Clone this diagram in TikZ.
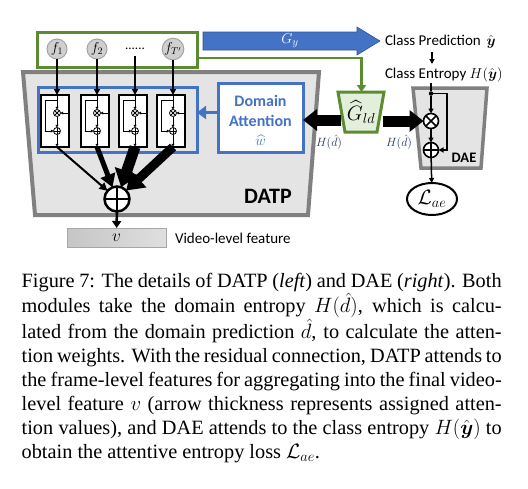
\documentclass[tikz,border=0pt]{standalone}
\usepackage{amsmath}
\usepackage{fontspec}
\setmainfont{Liberation Serif}
\newfontfamily\carl{Carlito}
\usetikzlibrary{arrows.meta,calc,shapes.geometric}
\definecolor{myblue}{HTML}{4472C4}
\definecolor{darkblue}{HTML}{2F5597}
\definecolor{mygreen}{HTML}{5B8C32}
\definecolor{lgreen}{HTML}{E2EFDA}
\definecolor{boxgray}{HTML}{E4E4E4}
\definecolor{edgegray}{HTML}{808080}
\definecolor{navy}{HTML}{1F3864}
\definecolor{fgray}{HTML}{CFCFCF}
\definecolor{fedge}{HTML}{A5A5A5}
\begin{document}
\begin{tikzpicture}[x=1pt,y=-1pt,
  every node/.style={inner sep=0pt,outer sep=0pt},
  sans/.style={font=\carl\fontsize{#1}{#1}\selectfont},
  fcirc/.style={circle,draw=fedge,fill=fgray,line width=1pt,minimum size=20pt,font=\fontsize{14}{14}\selectfont},
  farrow/.style={line width=1.8pt,-{Triangle[length=6pt,width=6pt]}},
  tarrow/.style={line width=0.9pt,-{Triangle[length=2.6pt,width=2.8pt]}},
  darrow/.style={line width=1.5pt,-{Triangle[length=5pt,width=5pt]}},
  blk/.style={draw,line width=2.2pt,fill=white,minimum width=28pt,minimum height=52pt},
  otimes/.style={circle,draw,fill=white,line width=#1,minimum size=7pt,
     path picture={\draw[line width=#1] (path picture bounding box.south west)--(path picture bounding box.north east)
                    (path picture bounding box.north west)--(path picture bounding box.south east);}},
  oplus/.style={circle,draw,fill=white,line width=#1,minimum size=7pt,
     path picture={\draw[line width=#1] (path picture bounding box.north)--(path picture bounding box.south)
                    (path picture bounding box.west)--(path picture bounding box.east);}},
]
\useasboundingbox (0,0) rectangle (528,488);

% DATP module
\draw[edgegray,fill=boxgray,line width=4pt] (23,72)--(319,72)--(308,215)--(35,215)--cycle;
\node[font=\carl\bfseries\fontsize{22}{22}\selectfont] (datp) at (268,196.5) {DATP};

% frame features
\node[draw=mygreen,line width=3pt,minimum width=160pt,minimum height=35pt] (fr) at (117,49.5) {};
\node[fcirc] (f1) at (57,49) {$f_1$};
\node[fcirc] (f2) at (97,49) {$f_2$};
\node[font=\carl\fontsize{13}{13}\selectfont] (f3) at (135,49) {......};
\node[fcirc] (f4) at (173,49) {$f_{T'}$};

% attention blocks
\node[draw=myblue,line width=3pt,minimum width=159pt,minimum height=65pt] (att) at (117.5,119.5) {};
\foreach \i/\x in {1/57,2/97,3/135,4/173}{
  \node[blk] (b\i) at (\x-2,121) {};
  \node[otimes=0.8pt] (m\i) at (\x,113) {};
  \node[oplus=0.8pt] (p\i) at (\x,131) {};
  \draw[tarrow] (\x,95) -- (m\i);
  \draw[tarrow] (\x,100) -- (\x-12,100) -- (\x-12,131) -- (p\i);
  \draw[tarrow] (\x+11,113) -- (m\i);
  \draw[tarrow] (m\i) -- (p\i);
  \draw[tarrow] (p\i) -- (\x,146.5);
}
\foreach \i in {1,2,4}{\draw[farrow] (f\i) -- (f\i |- b\i.north);}
\draw[farrow] ($(f3.south)+(0,6)$) -- (f3 |- b3.north);

% domain attention
\node[draw=myblue,line width=3pt,fill=white,minimum width=85pt,minimum height=69pt] (da) at (260.5,117.5) {};
\node[anchor=north,align=center,font=\carl\bfseries\fontsize{16}{20}\selectfont,text=myblue] (dat) at (260.5,95.5)
  {Domain\\Attention\\[-1pt]{\fontsize{15}{15}\selectfont$\widehat{w}$}};
\coordinate (ya) at (0,112.5);
\draw[myblue,line width=3pt,-{Triangle[length=9pt,width=13pt]}] (da.west |- ya) -- (att.east |- ya);

% aggregation
\node[circle,minimum size=25pt] (P) at (117,199) {};
\draw[line width=2pt,-{Triangle[length=8pt,width=8pt]}] (b1.south -| m1) -- (P);
\draw[line width=5pt,-{Triangle[length=13pt,width=15pt]}] (b2.south -| m2) -- (P);
\draw[line width=11pt,-{Triangle[length=17pt,width=24pt]}] (b3.south -| m3) -- (P);
\draw[line width=9pt,-{Triangle[length=17pt,width=22pt]}] (b4.south -| m4) -- (P);
\node[oplus=2.5pt,minimum size=25pt] (Pdraw) at (P) {};

\node[draw=gray!70,line width=1pt,left color=gray!45,right color=gray!25,minimum width=99pt,minimum height=19pt,font=\fontsize{18}{18}\selectfont] (v) at (116.5,237.5) {$v$};
\draw[line width=2.5pt,-{Triangle[length=7pt,width=9pt]}] (Pdraw) -- (v);
\node[sans=15,anchor=west] (vl) at (175,238) {Video-level feature};

% G_y arrow
\draw[darkblue,fill=myblue,line width=0.6pt] (203,32) -- (357,32) -- (357,27) -- (380,41) -- (357,55) -- (357,50) -- (203,50) -- cycle;
\node[text=white,font=\fontsize{15}{15}\selectfont] (gy) at (290,41) {$G_y$};

\node[sans=15,anchor=west] (cp) at (385,42) {Class Prediction\, $\hat{\boldsymbol{y}}$};
\node[sans=15,anchor=west] (ce) at (385,75) {Class Entropy $H(\hat{\boldsymbol{y}})$};
\coordinate (cpb) at (432,52);
\coordinate (cet) at (432,64);
\draw[line width=1.3pt,-{Triangle[length=5pt,width=5pt]}] (cpb) -- (cet);

% G_ld
\draw[mygreen,fill=lgreen,line width=3pt] (338,92)--(384,92)--(377,132)--(345,132)--cycle;
\node[font=\fontsize{20}{20}\selectfont] (gld) at (361,112) {$\widehat{G}_{ld}$};
\coordinate (gy0) at (0,58);
\coordinate (gldtop) at (361.5,92);
\draw[mygreen,line width=2.5pt,-{Triangle[length=7pt,width=9pt]}] (fr.east |- gy0) -| (gldtop);

% DAE
\draw[edgegray,fill=boxgray,line width=3.5pt] (413,88)--(487,88)--(481,168)--(421,168)--cycle;
\node[font=\carl\bfseries\fontsize{14.5}{14.5}\selectfont] (dae) at (464,158) {DAE};
\node[circle,fill,minimum size=4.5pt] (dot) at (431,93.5) {};
\node[otimes=1.6pt,minimum size=15pt] (dm) at (431,121) {};
\node[oplus=1.6pt,minimum size=15pt] (dp) at (431,150) {};
\node[ellipse,draw,line width=2pt,fill=white,minimum width=50pt,minimum height=32pt,font=\fontsize{20}{20}\selectfont] (lae) at (432,199) {$\mathcal{L}_{ae}$};
\coordinate (ceb) at (431,83);
\draw[line width=1.5pt] (ceb) -- (dot);
\draw[darrow] (dot) -- (dm);
\draw[darrow] (dot) -- (447,93.5) -- (447,150) -- (dp);
\draw[darrow] (dm) -- (dp);
\draw[darrow] (dp) -- (lae);

% thick arrows from G_ld
\coordinate (gldL) at (341,120);
\coordinate (gldR) at (383,121);
\draw[line width=11pt,-{Triangle[length=14pt,width=21pt]}] (gldL) -- (da.east |- gldL);
\draw[line width=11pt,-{Triangle[length=14pt,width=21pt]}] (gldR) -- (dm.west);
\node[text=navy,font=\fontsize{12.5}{12.5}\selectfont] (hl) at (329,142) {$H(\hat{d})$};
\node[text=navy,font=\fontsize{12.5}{12.5}\selectfont] (hr) at (399,142) {$H(\hat{d})$};

% caption
\node[anchor=north west,text width=480pt,align=justify,font=\fontsize{20.3}{24}\selectfont] (cap) at (21.7,273) {\hyphenpenalty=10000\exhyphenpenalty=10000\tolerance=10000
Figure 7: The details of DATP (\textit{left}) and DAE (\textit{right}). Both\linebreak
modules take the domain entropy $H(\hat{d})$, which is calcu-\linebreak
lated from the domain prediction $\hat{d}$, to calculate the atten-\linebreak
tion weights. With the residual connection, DATP attends to\linebreak
the frame-level features for aggregating into the final video-\linebreak
level feature $v$ (arrow thickness represents assigned atten-\linebreak
tion values), and DAE attends to the class entropy $H(\hat{\boldsymbol{y}})$ to\linebreak
obtain the attentive entropy loss $\mathcal{L}_{ae}$.};
\end{tikzpicture}
\end{document}
